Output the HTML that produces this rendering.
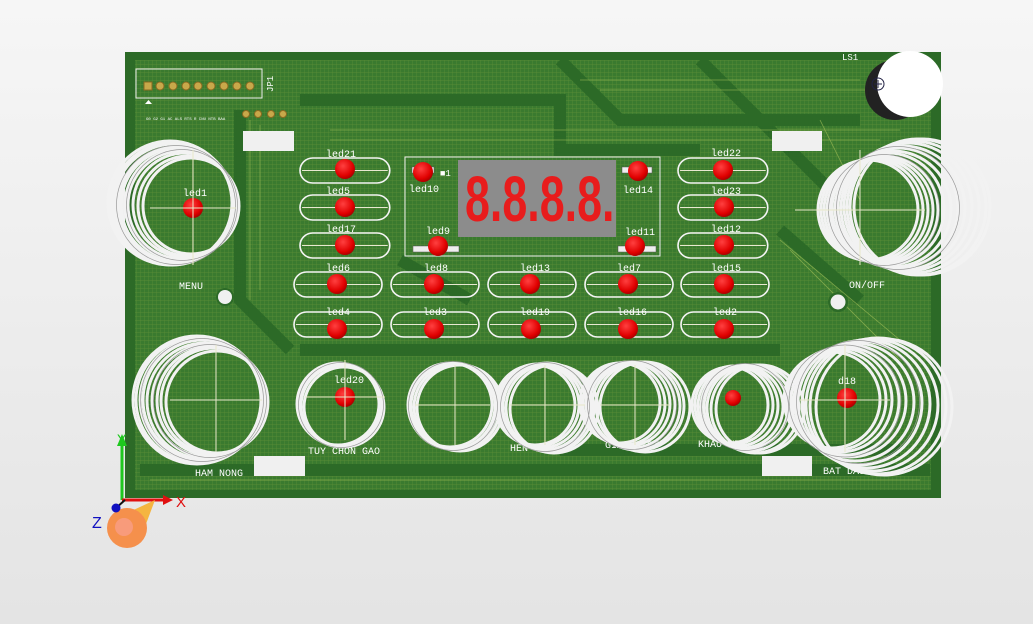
<!DOCTYPE html>
<html><head><meta charset="utf-8"><style>
html,body{margin:0;padding:0;width:1033px;height:624px;overflow:hidden;background:linear-gradient(#f6f6f6,#e4e4e4);}
svg{display:block}
text{font-family:"Liberation Mono","DejaVu Sans Mono",monospace;fill:#fff;}
text.s{font-family:"Liberation Sans",sans-serif;}
</style></head><body>
<svg width="1033" height="624" viewBox="0 0 1033 624">
<defs>
<pattern id="grid" width="4" height="4" patternUnits="userSpaceOnUse"><rect width="4" height="4" fill="#3a7a2f"/><path d="M0 0H4M0 0V4" stroke="#5d8f37" stroke-width="0.7"/></pattern>
<g id="pill"><rect x="0" y="0" width="88" height="25" rx="12.5" fill="none" stroke="#f4f4f4" stroke-width="1.6"/><line x1="2" y1="12.5" x2="86" y2="12.5" stroke="#e8e8d0" stroke-width="1"/></g>
<radialGradient id="led" cx="0.4" cy="0.35" r="0.7"><stop offset="0" stop-color="#ff4040"/><stop offset="0.7" stop-color="#e00000"/><stop offset="1" stop-color="#a00000"/></radialGradient>
</defs>
<rect x="125" y="52" width="816" height="446" fill="#2c6a27"/>
<rect x="135" y="60" width="796" height="430" fill="url(#grid)"/>
<g fill="none" stroke="#2c6a27" stroke-width="12">
<path d="M240 110 L240 300 L290 350"/><path d="M300 100 H560 V150 H700"/><path d="M560 60 L620 120 H780"/>
<path d="M780 230 L860 300"/><path d="M400 260 L470 300"/><path d="M140 470 H930"/><path d="M760 120 L860 120"/>
<path d="M560 450 H900"/><path d="M300 350 H780"/><path d="M700 60 L840 200"/>
</g>
<g fill="none" stroke="#9cbc56" stroke-width="0.8" opacity="0.7">
<path d="M330 130 H900"/><path d="M330 140 H880"/><path d="M580 80 H860"/><path d="M600 90 H870"/><path d="M250 120 V300"/><path d="M260 125 V290"/><path d="M780 240 L900 340"/><path d="M790 250 L900 360"/><path d="M150 480 H920"/><path d="M820 120 L860 200"/>
</g>
<rect x="136" y="69" width="126" height="29" fill="none" stroke="#eee" stroke-width="1"/>
<g fill="#c8a84a" stroke="#8a6a20"><rect x="144" y="82" width="8" height="8"/>
<circle cx="160" cy="86" r="4"/><circle cx="173" cy="86" r="4"/><circle cx="186" cy="86" r="4"/><circle cx="198" cy="86" r="4"/><circle cx="211" cy="86" r="4"/><circle cx="224" cy="86" r="4"/><circle cx="237" cy="86" r="4"/><circle cx="250" cy="86" r="4"/>
<circle cx="246" cy="114" r="3.5"/><circle cx="258" cy="114" r="3.5"/><circle cx="271" cy="114" r="3.5"/><circle cx="283" cy="114" r="3.5"/></g>
<text x="273" y="92" font-size="9" transform="rotate(-90 273 92)">JP1</text>
<polygon points="145,104 152,104 148.5,100" fill="#fff"/>
<g font-size="4" fill="#ddd"><text x="146" y="120">G0 G2 G1 AC ALS RTS R CNU NTB BAA</text></g>
<g fill="#f0f0f0"><rect x="243" y="131" width="51" height="20"/><rect x="772" y="131" width="50" height="20"/><rect x="254" y="456" width="51" height="20"/><rect x="762" y="456" width="50" height="20"/></g>
<circle cx="225" cy="297" r="9" fill="#2c6a27"/><circle cx="225" cy="297" r="7" fill="#f0f0f0"/>
<circle cx="838" cy="302" r="10" fill="#2c6a27"/><circle cx="838" cy="302" r="7.5" fill="#f0f0f0"/>
<use href="#pill" transform="translate(300,158) scale(1.02,1)"/>
<use href="#pill" transform="translate(300,195) scale(1.02,1)"/>
<use href="#pill" transform="translate(300,233) scale(1.02,1)"/>
<use href="#pill" transform="translate(678,158) scale(1.02,1)"/>
<use href="#pill" transform="translate(678,195) scale(1.02,1)"/>
<use href="#pill" transform="translate(678,233) scale(1.02,1)"/>
<use href="#pill" x="294" y="272"/><use href="#pill" x="391" y="272"/><use href="#pill" x="488" y="272"/><use href="#pill" x="585" y="272"/><use href="#pill" x="681" y="272"/>
<use href="#pill" x="294" y="312"/><use href="#pill" x="391" y="312"/><use href="#pill" x="488" y="312"/><use href="#pill" x="585" y="312"/><use href="#pill" x="681" y="312"/>
<rect x="405" y="157" width="255" height="99" fill="none" stroke="#eee" stroke-width="1"/>
<rect x="458" y="160" width="158" height="77" fill="#8c8c8c"/>
<text class="s" transform="translate(465,221) scale(0.7,1)" x="0" y="0" font-size="64" style="fill:#e81c1c;font-weight:bold">8.8.8.8.</text>
<g fill="#eee" stroke="#555" stroke-width="0.5"><rect x="413" y="246" width="46" height="6"/><rect x="618" y="246" width="38" height="6"/><rect x="412" y="167" width="22" height="6"/><rect x="622" y="167" width="30" height="6"/></g>
<g fill="url(#led)">
<circle cx="345" cy="169" r="10"/><circle cx="345" cy="207" r="10"/><circle cx="345" cy="245" r="10"/>
<circle cx="423" cy="172" r="10"/><circle cx="438" cy="246" r="10"/><circle cx="638" cy="171" r="10"/><circle cx="635" cy="246" r="10"/>
<circle cx="723" cy="170" r="10"/><circle cx="724" cy="207" r="10"/><circle cx="724" cy="245" r="10"/>
<circle cx="337" cy="284" r="10"/><circle cx="434" cy="284" r="10"/><circle cx="530" cy="284" r="10"/><circle cx="628" cy="284" r="10"/><circle cx="724" cy="284" r="10"/>
<circle cx="337" cy="329" r="10"/><circle cx="434" cy="329" r="10"/><circle cx="531" cy="329" r="10"/><circle cx="628" cy="329" r="10"/><circle cx="724" cy="329" r="10"/>
<circle cx="193" cy="208" r="10"/><circle cx="345" cy="397" r="10"/><circle cx="847" cy="398" r="10"/><circle cx="733" cy="398" r="8"/>
</g>
<g font-size="10">
<text x="326" y="157">led21</text><text x="326" y="194">led5</text><text x="326" y="232">led17</text>
<text x="409" y="192">led10</text><text x="426" y="234">led9</text><text x="623" y="193">led14</text><text x="625" y="235">led11</text>
<text x="711" y="156">led22</text><text x="711" y="194">led23</text><text x="711" y="232">led12</text>
<text x="326" y="271">led6</text><text x="424" y="271">led8</text><text x="520" y="271">led13</text><text x="617" y="271">led7</text><text x="711" y="271">led15</text>
<text x="326" y="315">led4</text><text x="423" y="315">led3</text><text x="520" y="315">led19</text><text x="617" y="315">led16</text><text x="713" y="315">led2</text>
<text x="183" y="196">led1</text><text x="334" y="383">led20</text><text x="838" y="384">d18</text>
<text x="179" y="289">MENU</text><text x="849" y="288">ON/OFF</text><text x="308" y="454">TUY CHON GAO</text><text x="510" y="451">HEN GIO</text><text x="605" y="448">GIA NHIET</text><text x="698" y="447">KHAU VI</text><text x="823" y="474">BAT DAU</text><text x="195" y="476">HAM NONG</text>
<text x="842" y="60" font-size="9">LS1</text><text x="440" y="176" font-size="9">■1</text>
</g>
<circle cx="895" cy="90" r="30" fill="#222"/><circle cx="910" cy="84" r="33" fill="#fff"/><circle cx="878" cy="84" r="6" fill="none" stroke="#224" stroke-width="1"/><path d="M874 84h8M878 80v8" stroke="#224"/>
<g fill="none" stroke="#f2f2f2" stroke-width="3">
<circle cx="170" cy="203" r="62"/><circle cx="172" cy="204" r="61"/><circle cx="174" cy="204" r="60"/><circle cx="176" cy="205" r="58"/><circle cx="178" cy="205" r="57"/><circle cx="180" cy="205" r="55"/><circle cx="182" cy="205" r="54"/><circle cx="185" cy="205" r="52"/><circle cx="188" cy="206" r="50"/><circle cx="191" cy="206" r="48"/>
<circle cx="197" cy="400" r="64"/><circle cx="199" cy="400" r="63"/><circle cx="201" cy="400" r="61"/><circle cx="203" cy="400" r="60"/><circle cx="205" cy="401" r="58"/><circle cx="208" cy="401" r="56"/><circle cx="211" cy="401" r="54"/><circle cx="214" cy="401" r="53"/><circle cx="217" cy="402" r="51"/>
<circle cx="868" cy="210" r="50"/><circle cx="872" cy="210" r="51"/><circle cx="876" cy="210" r="52"/><circle cx="880" cy="210" r="53"/><circle cx="884" cy="210" r="54"/><circle cx="888" cy="209" r="56"/><circle cx="893" cy="209" r="58"/><circle cx="898" cy="208" r="60"/><circle cx="903" cy="208" r="62"/><circle cx="908" cy="207" r="64"/><circle cx="913" cy="207" r="66"/><circle cx="918" cy="207" r="68"/><circle cx="922" cy="207" r="68"/>
<circle cx="832" cy="400" r="48"/><circle cx="836" cy="400" r="50"/><circle cx="840" cy="400" r="52"/><circle cx="845" cy="401" r="54"/><circle cx="850" cy="401" r="56"/><circle cx="855" cy="402" r="59"/><circle cx="860" cy="403" r="62"/><circle cx="866" cy="404" r="64"/><circle cx="872" cy="405" r="66"/><circle cx="878" cy="406" r="68"/><circle cx="884" cy="407" r="68"/>
<circle cx="338" cy="404" r="41"/><circle cx="340" cy="405" r="41"/><circle cx="342" cy="406" r="41"/><circle cx="344" cy="407" r="40"/>
<circle cx="450" cy="405" r="42"/><circle cx="452" cy="406" r="43"/><circle cx="454" cy="406" r="43"/><circle cx="457" cy="407" r="43"/><circle cx="460" cy="408" r="43"/>
<circle cx="535" cy="405" r="40"/><circle cx="538" cy="405" r="41"/><circle cx="541" cy="406" r="42"/><circle cx="544" cy="407" r="43"/><circle cx="547" cy="407" r="44"/><circle cx="550" cy="408" r="44"/><circle cx="554" cy="409" r="44"/>
<circle cx="620" cy="403" r="40"/><circle cx="624" cy="404" r="41"/><circle cx="628" cy="404" r="42"/><circle cx="632" cy="405" r="43"/><circle cx="636" cy="406" r="44"/><circle cx="640" cy="406" r="44"/><circle cx="645" cy="407" r="45"/>
<circle cx="730" cy="405" r="38"/><circle cx="734" cy="405" r="39"/><circle cx="738" cy="406" r="40"/><circle cx="742" cy="407" r="41"/><circle cx="746" cy="407" r="42"/><circle cx="750" cy="408" r="43"/><circle cx="755" cy="409" r="44"/><circle cx="760" cy="409" r="44"/>
</g>
<g fill="none" stroke="#999" stroke-width="0.7">
<circle cx="176" cy="205" r="59.5"/><circle cx="182" cy="205" r="55.5"/><circle cx="202" cy="400" r="61.5"/><circle cx="210" cy="401" r="56.5"/><circle cx="898" cy="208" r="61.5"/><circle cx="884" cy="210" r="55.5"/><circle cx="858" cy="402" r="61.5"/><circle cx="845" cy="401" r="56"/><circle cx="545" cy="407" r="44.5"/><circle cx="632" cy="405" r="44.5"/><circle cx="745" cy="407" r="43.5"/><circle cx="453" cy="406" r="44.5"/><circle cx="341" cy="405" r="42.5"/>
</g>
<g stroke="#e8e8c8" stroke-width="1"><path d="M150 208H236M193 150V265M170 400H262M216 345V452M305 397H385M345 360V440M415 405H490M455 365V445M510 405H585M545 365V445M600 405H670M635 365V445M795 210H925M860 150V265M800 400H890M845 345V452"/></g>
<line x1="122" y1="500" x2="122" y2="440" stroke="#1ec81e" stroke-width="3"/><polygon points="117,446 127,446 122,434" fill="#1ec81e"/>
<text class="s" x="117" y="444" font-size="14" style="fill:#1ec81e">Y</text>
<line x1="122" y1="500" x2="165" y2="500" stroke="#e01010" stroke-width="3"/><polygon points="163,495 173,500 163,505" fill="#e01010"/>
<text class="s" x="176" y="507" font-size="15" style="fill:#e01010">X</text>
<path d="M112 520 L155 500 L140 540 Z" fill="#f5b540"/>
<circle cx="127" cy="528" r="20" fill="#f5904c"/><circle cx="124" cy="527" r="9" fill="#f9a090" opacity="0.7"/>
<line x1="116" y1="508" x2="125" y2="500" stroke="#111" stroke-width="2"/><circle cx="116" cy="508" r="4.5" fill="#1010c0"/>
<text class="s" x="92" y="528" font-size="16" style="fill:#1010c0">Z</text>
</svg>
</body></html>
